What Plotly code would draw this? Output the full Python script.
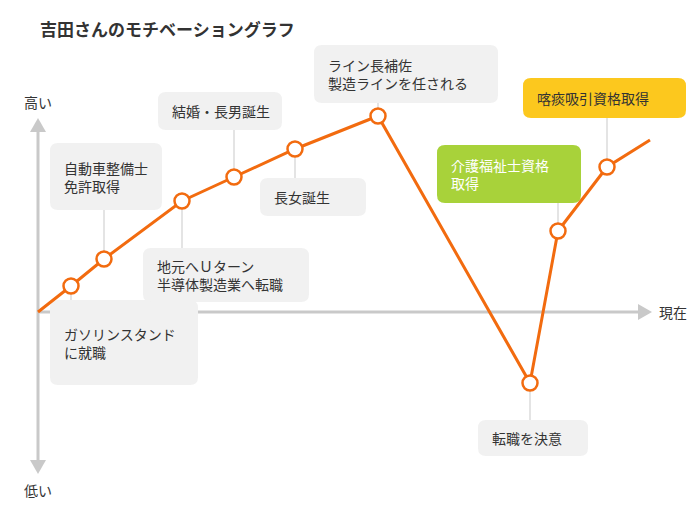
import plotly.graph_objects as go

# data (x = time progression, y = motivation)
xs = [0, 33, 66, 144, 196, 257, 340, 492, 520, 569, 612]
ys = [0, 26, 53, 111, 135, 163, 196, -71, 81, 145, 172]
events = [
    (1, "ガソリンスタンド<br>に就職", (50, 300, 198, 385), "g"),
    (2, "自動車整備士<br>免許取得", (50, 143, 162, 210), "g"),
    (3, "地元へＵターン<br>半導体製造業へ転職", (143, 248, 309, 302), "g"),
    (4, "結婚・長男誕生", (158, 92, 282, 130), "g"),
    (5, "長女誕生", (260, 178, 366, 216), "g"),
    (6, "ライン長補佐<br>製造ラインを任される", (314, 45, 498, 103), "g"),
    (7, "転職を決意", (478, 420, 588, 456), "g"),
    (8, "介護福祉士資格<br>取得", (437, 145, 581, 203), "green"),
    (9, "喀痰吸引資格取得", (523, 78, 686, 118), "yellow"),
]

OX, OY = 38, 312
def X(px): return px - OX
def Y(py): return OY - py

FONT = "Noto Sans CJK JP"
ORANGE = "#f26b0f"
GRAY = "#c9c9c9"
fig = go.Figure()
shapes, ann = [], []

def rrect(x0, y0, x1, y1, r=8):
    a, b, c, d = X(x0), Y(y0), X(x1), Y(y1)
    return (f"M{a+r},{b} L{c-r},{b} Q{c},{b} {c},{b-r} L{c},{d+r} Q{c},{d} {c-r},{d} "
            f"L{a+r},{d} Q{a},{d} {a},{d+r} L{a},{b-r} Q{a},{b} {a+r},{b} Z")

shapes.append(dict(type="line", x0=X(38), y0=Y(130), x1=X(38), y1=Y(462), line=dict(color=GRAY, width=3), layer="below"))
shapes.append(dict(type="line", x0=X(38), y0=Y(312), x1=X(640), y1=Y(312), line=dict(color=GRAY, width=3), layer="below"))
for path in [f"M{X(30)},{Y(132)} L{X(38)},{Y(118)} L{X(46)},{Y(132)} Z",
             f"M{X(30)},{Y(460)} L{X(38)},{Y(474)} L{X(46)},{Y(460)} Z",
             f"M{X(638)},{Y(304)} L{X(652)},{Y(312)} L{X(638)},{Y(320)} Z"]:
    shapes.append(dict(type="path", path=path, fillcolor=GRAY, line=dict(width=0), layer="below"))

styles = {"g": ("#f1f1f1", "#333333"), "green": ("#a8d23a", "#ffffff"), "yellow": ("#fcc81e", "#333333")}
for idx, text, (x0, y0, x1, y1), st in events:
    bg, fc = styles[st]
    py = OY - ys[idx]
    ty = y1 if py > y1 else y0
    shapes.append(dict(type="line", x0=xs[idx], y0=ys[idx], x1=xs[idx], y1=Y(ty), line=dict(color=GRAY, width=1), layer="below"))
    shapes.append(dict(type="path", path=rrect(x0, y0, x1, y1), fillcolor=bg, line=dict(width=0), layer="below"))
    ann.append(dict(x=X(x0 + 12), y=Y((y0 + y1) / 2), text=text, showarrow=False, xanchor="left",
                    yanchor="middle", align="left", font=dict(family=FONT, size=14, color=fc)))

fig.add_trace(go.Scatter(x=xs, y=ys, mode="lines", line=dict(color=ORANGE, width=3), hoverinfo="skip"))
fig.add_trace(go.Scatter(x=xs[1:10], y=ys[1:10], mode="markers",
                         marker=dict(size=15, color="white", line=dict(color=ORANGE, width=2.5))))

ann += [
    dict(x=X(38), y=Y(28), text="<b>吉田さんのモチベーショングラフ</b>", showarrow=False, xanchor="left",
         font=dict(family=FONT, size=17, color="#333")),
    dict(x=X(38), y=Y(102), text="高い", showarrow=False, font=dict(family=FONT, size=14, color="#333")),
    dict(x=X(38), y=Y(490), text="低い", showarrow=False, font=dict(family=FONT, size=14, color="#333")),
    dict(x=X(673), y=Y(312), text="現在", showarrow=False, font=dict(family=FONT, size=14, color="#333")),
]

fig.update_layout(width=700, height=525, margin=dict(l=0, r=0, t=0, b=0), showlegend=False,
                  plot_bgcolor="white", paper_bgcolor="white", shapes=shapes, annotations=ann,
                  xaxis=dict(range=[-30, 670], visible=False, fixedrange=True),
                  yaxis=dict(range=[-221, 304], visible=False, fixedrange=True))
fig.write_html("out.html")
